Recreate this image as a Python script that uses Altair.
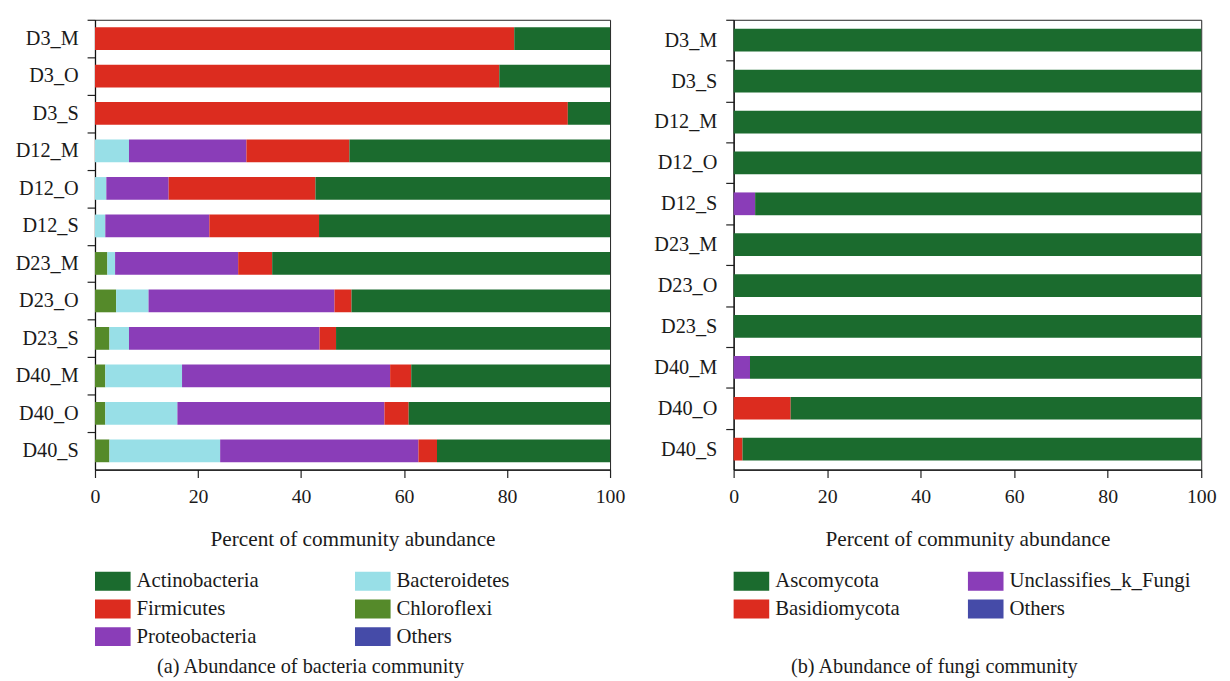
import altair as alt
import pandas as pd

# ---------------- data ----------------
samples_b = ["D3_M", "D3_O", "D3_S", "D12_M", "D12_O", "D12_S",
             "D23_M", "D23_O", "D23_S", "D40_M", "D40_O", "D40_S"]
b_actinobacteria = [18.6, 21.5, 8.2, 50.6, 57.2, 56.5, 65.6, 50.2, 53.2, 38.6, 39.1, 33.6]
b_firmicutes = [81.4, 78.5, 91.8, 20.0, 28.5, 21.3, 6.6, 3.3, 3.2, 4.1, 4.7, 3.6]
b_proteobacteria = [0.0, 0.0, 0.0, 22.8, 12.1, 20.2, 23.9, 36.1, 37.0, 40.4, 40.2, 38.5]
b_bacteroidetes = [0.0, 0.0, 0.0, 6.6, 2.2, 2.0, 1.5, 6.3, 3.8, 14.9, 14.0, 21.5]
b_chloroflexi = [0.0, 0.0, 0.0, 0.0, 0.0, 0.0, 2.4, 4.1, 2.8, 2.0, 2.0, 2.8]
b_others = [0.0, 0.0, 0.0, 0.0, 0.0, 0.0, 0.0, 0.0, 0.0, 0.0, 0.0, 0.0]

samples_f = ["D3_M", "D3_S", "D12_M", "D12_O", "D12_S",
             "D23_M", "D23_O", "D23_S", "D40_M", "D40_O", "D40_S"]
f_ascomycota = [100.0, 100.0, 100.0, 100.0, 95.4, 100.0, 100.0, 100.0, 96.5, 87.8, 98.1]
f_basidiomycota = [0.0, 0.0, 0.0, 0.0, 0.0, 0.0, 0.0, 0.0, 0.0, 12.2, 1.9]
f_unclassified = [0.0, 0.0, 0.0, 0.0, 4.6, 0.0, 0.0, 0.0, 3.5, 0.0, 0.0]
f_others = [0.0, 0.0, 0.0, 0.0, 0.0, 0.0, 0.0, 0.0, 0.0, 0.0, 0.0]

captions = ["(a) Abundance of bacteria community", "(b) Abundance of fungi community"]

# legend order (row-major, two columns)
bact_legend = ["Actinobacteria", "Bacteroidetes", "Firmicutes", "Chloroflexi", "Proteobacteria", "Others"]
bact_colors = ["#1b6b2e", "#98dfe7", "#dc2c1f", "#558a2a", "#8a3db8", "#454ba8"]
fung_legend = ["Ascomycota", "Unclassifies_k_Fungi", "Basidiomycota", "Others"]
fung_colors = ["#1b6b2e", "#8a3db8", "#dc2c1f", "#454ba8"]

# stacking order from the left (0) to the right
bact_series = [("Others", b_others), ("Chloroflexi", b_chloroflexi), ("Bacteroidetes", b_bacteroidetes),
               ("Proteobacteria", b_proteobacteria), ("Firmicutes", b_firmicutes),
               ("Actinobacteria", b_actinobacteria)]
fung_series = [("Others", f_others), ("Unclassifies_k_Fungi", f_unclassified),
               ("Basidiomycota", f_basidiomycota), ("Ascomycota", f_ascomycota)]


def build(samples, series):
    rows = []
    for k, (name, vals) in enumerate(series):
        for s, v in zip(samples, vals):
            rows.append({"sample": s, "taxon": name, "value": v, "ord": k})
    return pd.DataFrame(rows)


df_b = build(samples_b, bact_series)
df_f = build(samples_f, fung_series)

FONT = "Liberation Serif"
TXT = "#1a1a1a"
RECT = "M-1,-0.53L1,-0.53L1,0.53L-1,0.53Z"
H = 455


def panel(df, samples, domain, colors, width, pad_inner, caption, cap_x, col_pad):
    step = H / len(samples)
    half_gap = step * pad_inner / 2.0   # ticks sit between the bars
    x = alt.X("value:Q", stack="zero",
              scale=alt.Scale(domain=[0, 100], nice=False, zero=True),
              axis=alt.Axis(values=[0, 20, 40, 60, 80, 100], title="Percent of community abundance",
                            grid=False, labelFlush=False, tickSize=8, labelPadding=9,
                            labelFontSize=20, titleFontSize=21.5,
                            titlePadding=23, format="d"))
    y = alt.Y("sample:N", sort=samples,
              scale=alt.Scale(paddingInner=pad_inner, paddingOuter=pad_inner / 2),
              axis=alt.Axis(title=None, tickSize=8, labelPadding=9, grid=False,
                            labelFontSize=20.5, bandPosition=0,
                            tickOffset=-half_gap, labelOffset=half_gap))
    color = alt.Color("taxon:N", scale=alt.Scale(domain=domain, range=colors),
                      legend=alt.Legend(orient="bottom", direction="horizontal", offset=13,
                                        columns=2, title=None, symbolType=RECT, symbolSize=1296,
                                        symbolStrokeWidth=0, symbolOpacity=1,
                                        labelFont=FONT, labelFontSize=21, labelColor=TXT,
                                        labelOffset=6, labelLimit=300,
                                        columnPadding=col_pad, rowPadding=-1.5))
    bars = alt.Chart(df).mark_bar().encode(
        x=x, y=y, color=color, order=alt.Order("ord:Q", sort="ascending")
    )
    cap = alt.Chart(pd.DataFrame({"caption": [caption]})).mark_text(
        font=FONT, fontSize=20.5, color=TXT, align="center", baseline="alphabetic"
    ).encode(x=alt.value(cap_x), y=alt.value(H + 206), text="caption:N")
    return alt.layer(bars, cap).properties(width=width, height=H)


left = panel(df_b, samples_b, bact_legend, bact_colors, 521, 0.393, captions[0], 218, 97)
right = panel(df_f, samples_f, fung_legend, fung_colors, 473, 0.444, captions[1], 203, 69)

chart = alt.hconcat(left, right, spacing=27).resolve_scale(
    color="independent", y="independent"
).resolve_legend(color="independent").properties(
    padding={"left": 6, "top": 6, "right": 5, "bottom": 5}
).configure_view(
    stroke="#222", strokeWidth=1
).configure_axis(
    labelFont=FONT, labelColor=TXT,
    titleFont=FONT, titleFontWeight="normal", titleColor=TXT,
    domainColor="#111", domainWidth=1.3, tickColor="#222", tickWidth=1.2
)

chart.save("out.html", embed_options={"renderer": "svg", "actions": False})
